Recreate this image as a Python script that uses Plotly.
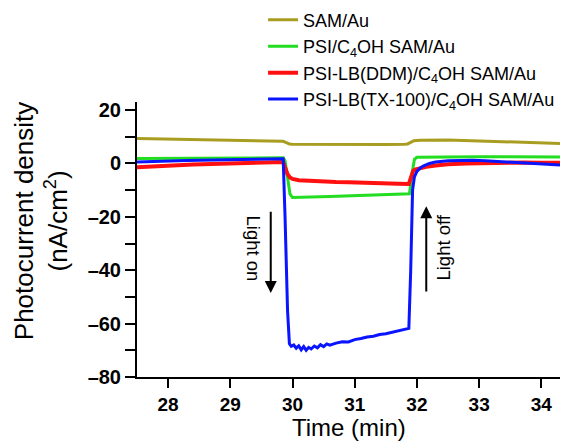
import plotly.graph_objects as go

# ---- data ----
sam_x = [27.5, 28.0, 28.5, 29.0, 29.5, 29.8, 29.85, 29.9, 29.95, 30.0, 30.5, 31.0, 31.5, 31.8,
         31.85, 31.9, 31.95, 32.05, 32.2, 32.5, 33.0, 33.5, 34.0, 34.3]
sam_y = [9.3, 9.1, 8.9, 8.8, 8.6, 8.5, 8.3, 7.8, 7.3, 7.2, 7.1, 7.0, 7.1, 7.2,
         7.3, 7.9, 8.5, 8.7, 8.8, 8.8, 8.4, 8.0, 7.7, 7.5]

psi_x = [27.5, 28.0, 28.5, 29.0, 29.5, 29.85, 29.88, 29.92, 29.96, 30.0, 30.1, 30.3, 30.6,
         31.0, 31.4, 31.8, 31.88, 31.92, 31.96, 32.0, 32.5, 33.0, 33.5, 34.0, 34.3]
psi_y = [1.8, 1.9, 2.0, 2.0, 2.1, 2.1, 1.0, -6.0, -11.5, -12.8, -12.8, -12.6, -12.4,
         -12.1, -11.8, -11.5, -11.4, -4.0, 1.5, 2.3, 2.5, 2.5, 2.5, 2.4, 2.4]

ddm_x = [27.5, 27.8, 28.1, 28.4, 28.7, 29.0, 29.3, 29.6, 29.85, 29.88, 29.92, 29.96, 30.0,
         30.1, 30.3, 30.5, 30.7, 30.9, 31.1, 31.3, 31.5, 31.7, 31.87, 31.9, 31.94, 31.98,
         32.05, 32.15, 32.3, 32.5, 32.8, 33.1, 33.4, 33.7, 34.0, 34.3]
ddm_y = [-1.4, -1.0, -0.7, -0.4, -0.2, 0.0, 0.2, 0.4, 0.5, -1.5, -4.0, -5.3, -5.8,
         -6.3, -6.6, -6.8, -7.0, -7.1, -7.3, -7.4, -7.5, -7.6, -7.7, -5.0, -2.8, -2.2,
         -1.8, -1.3, -0.8, -0.3, 0.0, 0.2, 0.3, 0.3, 0.2, 0.2]

tx_x = [27.5, 27.7, 27.9, 28.1, 28.3, 28.5, 28.7, 28.9, 29.1, 29.3, 29.5, 29.7, 29.85,
        29.88, 29.92, 29.95, 29.98, 30.02, 30.06, 30.1, 30.14, 30.18, 30.22, 30.26, 30.3,
        30.35, 30.4, 30.45, 30.5, 30.55, 30.6, 30.7, 30.8, 30.9, 31.0, 31.1, 31.2, 31.3,
        31.4, 31.5, 31.6, 31.7, 31.8, 31.87, 31.9, 31.93, 31.96, 32.0, 32.05, 32.1, 32.2,
        32.3, 32.5, 32.7, 32.9, 33.1, 33.3, 33.5, 33.7, 33.9, 34.1, 34.3]
tx_y = [0.5, 0.7, 0.8, 1.0, 1.1, 1.2, 1.3, 1.4, 1.5, 1.6, 1.6, 1.7, 1.7,
        -20.0, -55.0, -67.5, -68.5, -68.0, -69.2, -68.3, -69.8, -68.6, -70.0, -68.9, -69.5,
        -68.4, -69.1, -67.9, -68.6, -67.6, -68.1, -67.3, -66.8, -66.9, -66.0, -65.6, -65.0,
        -64.7, -64.1, -63.8, -63.2, -62.8, -62.2, -61.8, -40.0, -10.0, -5.0, -3.0, -1.8,
        -1.0, 0.0, 0.5, 1.0, 1.2, 1.2, 1.0, 0.7, 0.4, 0.1, -0.2, -0.4, -0.6]

names = ["SAM/Au", "PSI/C<sub>4</sub>OH SAM/Au", "PSI-LB(DDM)/C<sub>4</sub>OH SAM/Au",
         "PSI-LB(TX-100)/C<sub>4</sub>OH SAM/Au"]
colors = ["#A89D20", "#22DD22", "#FF1010", "#0A14FF"]

x_ticks = [28, 29, 30, 31, 32, 33, 34]
y_ticks = [20, 0, -20, -40, -60, -80]

FONT = "Liberation Sans, Arial, sans-serif"

fig = go.Figure()
series = [(sam_x, sam_y), (psi_x, psi_y), (ddm_x, ddm_y), (tx_x, tx_y)]
widths = [3, 3, 4, 3]
for (xs, ys), nm, c, w in zip(series, names, colors, widths):
    fig.add_trace(go.Scatter(x=xs, y=ys, mode="lines", name=nm,
                             line=dict(color=c, width=w)))

fig.update_layout(
    width=561, height=442,
    margin=dict(l=137, r=1, t=102, b=65),
    paper_bgcolor="white", plot_bgcolor="white",
    font=dict(family=FONT, color="black"),
    showlegend=True,
    legend=dict(x=0.298, y=1.365, xanchor="left", yanchor="top",
                font=dict(size=18, family=FONT), bgcolor="rgba(0,0,0,0)",
                tracegroupgap=0, itemwidth=30),
)

fig.update_xaxes(
    range=[27.5, 34.3], tickvals=x_ticks, ticktext=[str(v) for v in x_ticks],
    showline=True, linewidth=2, linecolor="black", mirror=False,
    ticks="outside", ticklen=9, tickwidth=2, tickcolor="black",
    showgrid=False, zeroline=False,
    tickfont=dict(size=19, family=FONT, weight="bold"),
)
fig.update_yaxes(
    range=[-80, 23], tickvals=y_ticks, ticktext=[str(v).replace("-", "\u2013") for v in y_ticks],
    showline=True, linewidth=2, linecolor="black", mirror=False,
    ticks="outside", ticklen=10, tickwidth=2, tickcolor="black",
    minor=dict(tickvals=[10, -10, -30, -50, -70], ticks="outside", ticklen=10,
               tickwidth=2, tickcolor="black"),
    showgrid=False, zeroline=False,
    tickfont=dict(size=20, family=FONT, weight="bold"),
)

# x-axis title
fig.add_annotation(text="Time (min)", xref="paper", y=0, yref="paper", x=0.5,
                   yshift=-50, xanchor="center", yanchor="middle", showarrow=False,
                   font=dict(size=24, family=FONT))

# y-axis title
fig.add_annotation(text="Photocurrent density<br>(nA/cm<sup>2</sup>)", textangle=-90,
                   xref="paper", yref="paper", x=-0.228, y=0.565,
                   xanchor="center", yanchor="middle", showarrow=False,
                   font=dict(size=26, family=FONT))

# Light on / off labels and arrows
fig.add_annotation(text="Light on", textangle=90, x=29.37, y=-32, xref="x", yref="y",
                   showarrow=False, font=dict(size=18.5, family=FONT))
fig.add_annotation(x=29.65, y=-48.5, ax=29.65, ay=-17.5, xref="x", yref="y",
                   axref="x", ayref="y", text="", showarrow=True,
                   arrowhead=2, arrowsize=1.2, arrowwidth=2, arrowcolor="black")
fig.add_annotation(text="Light off", textangle=-90, x=32.42, y=-31.5, xref="x", yref="y",
                   showarrow=False, font=dict(size=18.5, family=FONT))
fig.add_annotation(x=32.15, y=-16, ax=32.15, ay=-48.5, xref="x", yref="y",
                   axref="x", ayref="y", text="", showarrow=True,
                   arrowhead=2, arrowsize=1.2, arrowwidth=2, arrowcolor="black")

fig.write_html("out.html")
